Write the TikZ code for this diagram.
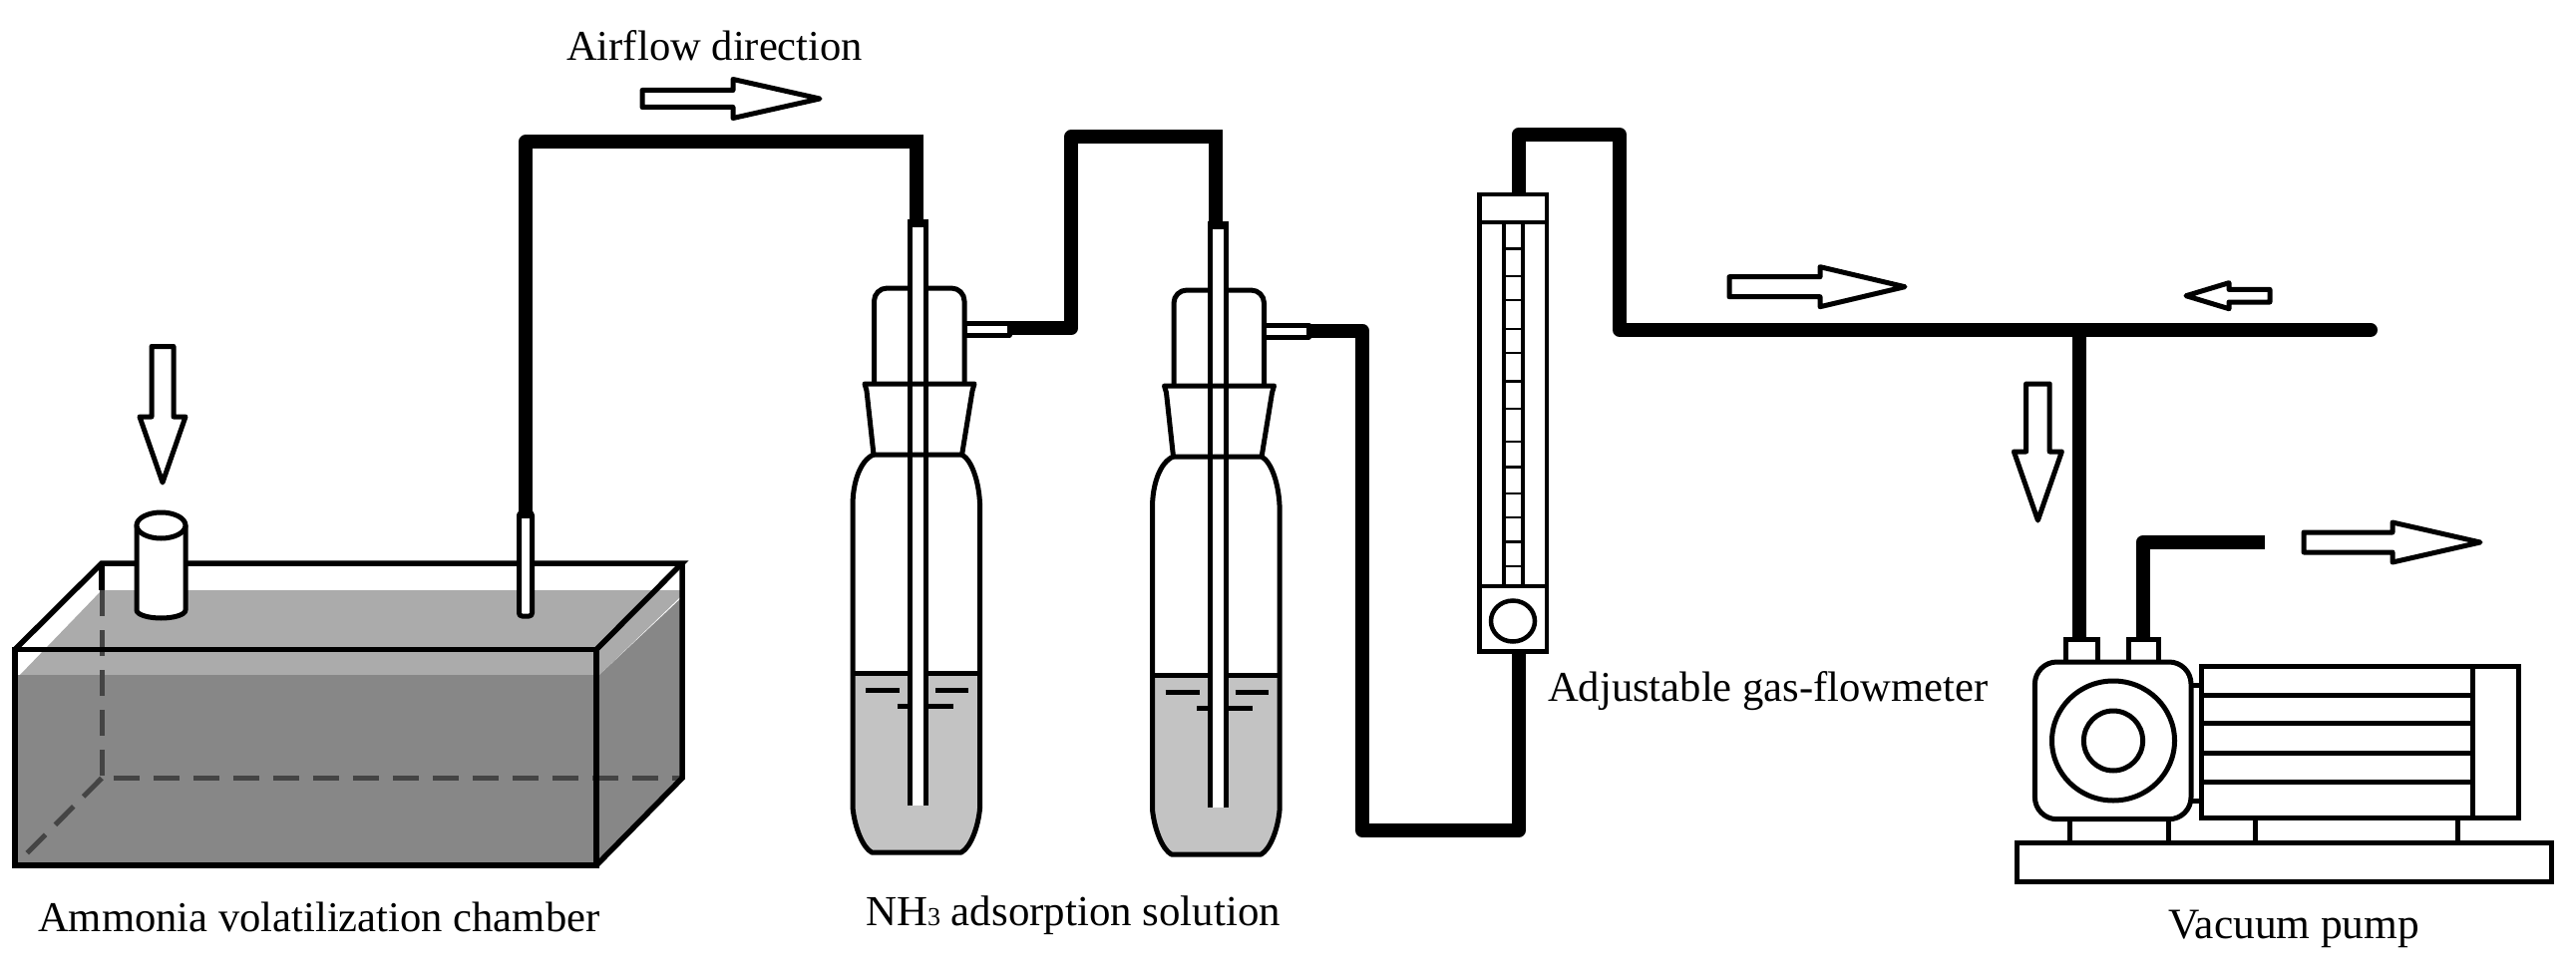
\documentclass[tikz,border=0pt]{standalone}
\usepackage{fontspec}
\setmainfont{Liberation Serif}
\definecolor{waterdark}{HTML}{878787}
\definecolor{waterlight}{HTML}{ABABAB}
\definecolor{solution}{HTML}{C3C3C3}
\definecolor{hidden}{HTML}{444444}
\tikzset{
  pipe/.style={line width=14pt,line join=round},
  sharppipe/.style={line width=14pt,line join=miter},
  glass/.style={line width=5pt,line join=round},
  chamberline/.style={line width=5.5pt,line join=miter},
  hiddenline/.style={line width=5pt,color=hidden,dash pattern=on 26pt off 14pt},
  flowarrow/.style={draw,fill=white,line width=5pt,line join=round},
  labeltext/.style={inner sep=0pt,anchor=base west,font=\fontsize{42.6}{46}\selectfont},
  thin tick/.style={line width=2.5pt},
}
\newcommand{\flowright}[6]{% left, head, tip, y, shaft half, head half
  \path[flowarrow] (#1,#4-#5) -- (#2,#4-#5) -- (#2,#4-#6) -- (#3,#4) -- (#2,#4+#6) -- (#2,#4+#5) -- (#1,#4+#5) -- cycle;}
\newcommand{\bottlefig}{%
  % head
  \draw[glass,fill=white,rounded corners=13pt] (876.5,386) -- (876.5,289) -- (967,289) -- (967,386);
  % solution
  \fill[solution] (855,675) -- (855,810) .. controls (857,830) and (865,850) .. (874,855) -- (964,855) .. controls (973,850) and (981,830) .. (982.6,810) -- (982.6,675) -- cycle;
  \draw[line width=5pt] (855,675) -- (982.6,675);
  \draw[line width=5pt] (868,692) -- (902,692) (938,692) -- (971,692) (899.5,708) -- (955.6,708);
  % bottle
  \draw[glass] (876,456) .. controls (862,462) and (855,485) .. (855,507) -- (855,810) .. controls (857,830) and (865,850) .. (874,855) -- (964,855) .. controls (973,850) and (981,830) .. (982.6,810) -- (982.6,507) .. controls (982,485) and (975,462) .. (964.6,456);
  % dip tube
  \fill[white] (912.5,222) rectangle (928.5,808);
  \draw[glass,line cap=butt] (912.5,808) -- (912.5,222) -- (928.5,222) -- (928.5,808);
  \fill (910,220) rectangle (931,228);
  % stopper
  \draw[glass] (867,385) -- (977,385) -- (975,392) -- (964.6,456) -- (876,456) -- (869,392) -- cycle;
  % side port
  \draw[glass,fill=white] (967,324) rectangle (1012,336);
}
\begin{document}
\begin{tikzpicture}[x=1pt,y=-1pt]
\useasboundingbox (0,0) rectangle (2583,979);

% ---------- chamber ----------
\fill[waterlight] (20,677) -- (102,592) -- (682,592) -- (682,599) -- (601,677) -- cycle;
\fill[waterdark] (15,677) rectangle (598,868);
\fill[waterdark] (598,677) -- (601,677) -- (684,599) -- (684,780.5) -- (598,868) -- cycle;
\draw[hiddenline] (102,592) -- (102,780.5) -- (684,780.5);
\draw[hiddenline] (102,780.5) -- (15,868);
\draw[chamberline] (102,592) -- (102,565);
\draw[chamberline] (15,651.5) -- (102,565) -- (684,565) -- (598,651.5);
\draw[chamberline] (684,565) -- (684,780.5) -- (598,868);
\draw[chamberline] (15,651.5) rectangle (598,868);
% inlet cylinder
\draw[glass,fill=white] (137,527) -- (137,612) arc[start angle=180,end angle=0,x radius=24.5,y radius=8] -- (186,527) -- cycle;
\draw[glass,fill=white] (161.5,527) ellipse[x radius=24.5,y radius=13];
% chamber outlet tube
\draw[glass,fill=white,rounded corners=3pt] (520.5,514) -- (520.5,618) -- (533.5,618) -- (533.5,514) -- cycle;

% ---------- bottles ----------
\bottlefig
\begin{scope}[shift={(300.5,2)}]
\bottlefig
\end{scope}

% ---------- flowmeter ----------
\draw[line width=4.5pt,fill=white] (1483.5,195) rectangle (1551,653.5);
\draw[line width=4.5pt] (1483.5,223) -- (1551,223) (1483.5,588) -- (1551,588);
\draw[line width=4.5pt] (1508,223) -- (1508,588) (1527,223) -- (1527,588);
\foreach \ty in {249.7,277,301,330,354,382.5,410,443,468.6,495,519,543.6,568}
  \draw[thin tick] (1508,\ty) -- (1527,\ty);
\draw[line width=4.5pt] (1517,623) ellipse[x radius=22,y radius=20.5];

% ---------- pump ----------
\draw[line width=5pt,fill=white] (2022,845.7) rectangle (2558,884);
\draw[line width=5pt] (2075,821) -- (2075,846) (2174,821) -- (2174,846) (2261,821) -- (2261,846) (2464.6,821) -- (2464.6,846);
\draw[line width=5pt,fill=white] (2071,641.7) rectangle (2103,665);
\draw[line width=5pt,fill=white] (2134,641.7) rectangle (2164.6,665);
\draw[line width=5pt,fill=white] (2195,687) rectangle (2207,803);
\draw[line width=5pt,fill=white,rounded corners=22pt] (2040.4,664) rectangle (2197,821.7);
\draw[line width=5pt] (2119,743) ellipse[x radius=61.5,y radius=60];
\draw[line width=5pt] (2119,743) ellipse[x radius=29.6,y radius=30];
\draw[line width=5pt,fill=white] (2207,668) rectangle (2525,820);
\draw[line width=5pt] (2479,668) -- (2479,820);
\foreach \ly in {697.7,725,755,784}
  \draw[line width=5pt] (2207,\ly) -- (2479,\ly);

% ---------- connection points ----------
\coordinate (chamberout) at (527,520);
\coordinate (bottleAin) at (919,222);
\coordinate (bottleAout) at (1012,329);
\coordinate (bottleBin) at (1219,224);
\coordinate (bottleBout) at (1313,331.5);
\coordinate (meterbottom) at (1522.7,653);
\coordinate (metertop) at (1522.7,195);
\coordinate (tee) at (2085,331);
\coordinate (airend) at (2377,331);
\coordinate (pumpin) at (2085,642);
\coordinate (pumpout) at (2148.5,642);
\coordinate (exhaust) at (2271,544);

% ---------- pipes ----------
\draw[pipe] (chamberout) |- (bottleAin |- 0,142.5) -- (bottleAin);
\draw[sharppipe] (895,142.5) -| (bottleAin);
\draw[pipe] (bottleAout) -| (1074.4,137) -| (bottleBin);
\draw[sharppipe] (1195,137) -| (bottleBin);
\draw[pipe] (bottleBout) -| (1366,833) -| (meterbottom);
\draw[pipe] (metertop) |- (1624,135) |- (tee);
\draw[pipe,line cap=round] (tee) -- (airend);
\draw[pipe] (tee) -- (pumpin);
\draw[pipe] (pumpout) |- (exhaust);

% ---------- flow arrows ----------
\flowright{644}{735}{822}{99}{8.5}{19.5}
\flowright{1734}{1825}{1910}{287.7}{10}{20}
\flowright{2310}{2399}{2487}{544}{10}{20}
\path[flowarrow] (2276,290.4) -- (2235,290.4) -- (2235,283.7) -- (2192,296.7) -- (2235,309.7) -- (2235,303) -- (2276,303) -- cycle;
\path[flowarrow] (152,347.5) -- (174,347.5) -- (174,418) -- (186,418) -- (163,484) -- (140,418) -- (152,418) -- cycle;
\path[flowarrow] (2031.6,385) -- (2055.2,385) -- (2055.2,453) -- (2067.4,453) -- (2043.4,522) -- (2019.4,453) -- (2031.6,453) -- cycle;

% ---------- labels ----------
\node[labeltext] (lblair) at (568,61) {Airflow direction};
\node[labeltext] (lblchamber) at (38,934) {Ammonia volatilization chamber};
\node[labeltext,font=\fontsize{42.9}{46}\selectfont] (lblnh) at (868,928) {NH{\fontsize{26}{26}\selectfont 3} adsorption solution};
\node[labeltext] (lblmeter) at (1552,703.3) {Adjustable gas-flowmeter};
\node[labeltext,font=\fontsize{43.4}{46}\selectfont] (lblpump) at (2174,941.7) {Vacuum pump};
\end{tikzpicture}
\end{document}
